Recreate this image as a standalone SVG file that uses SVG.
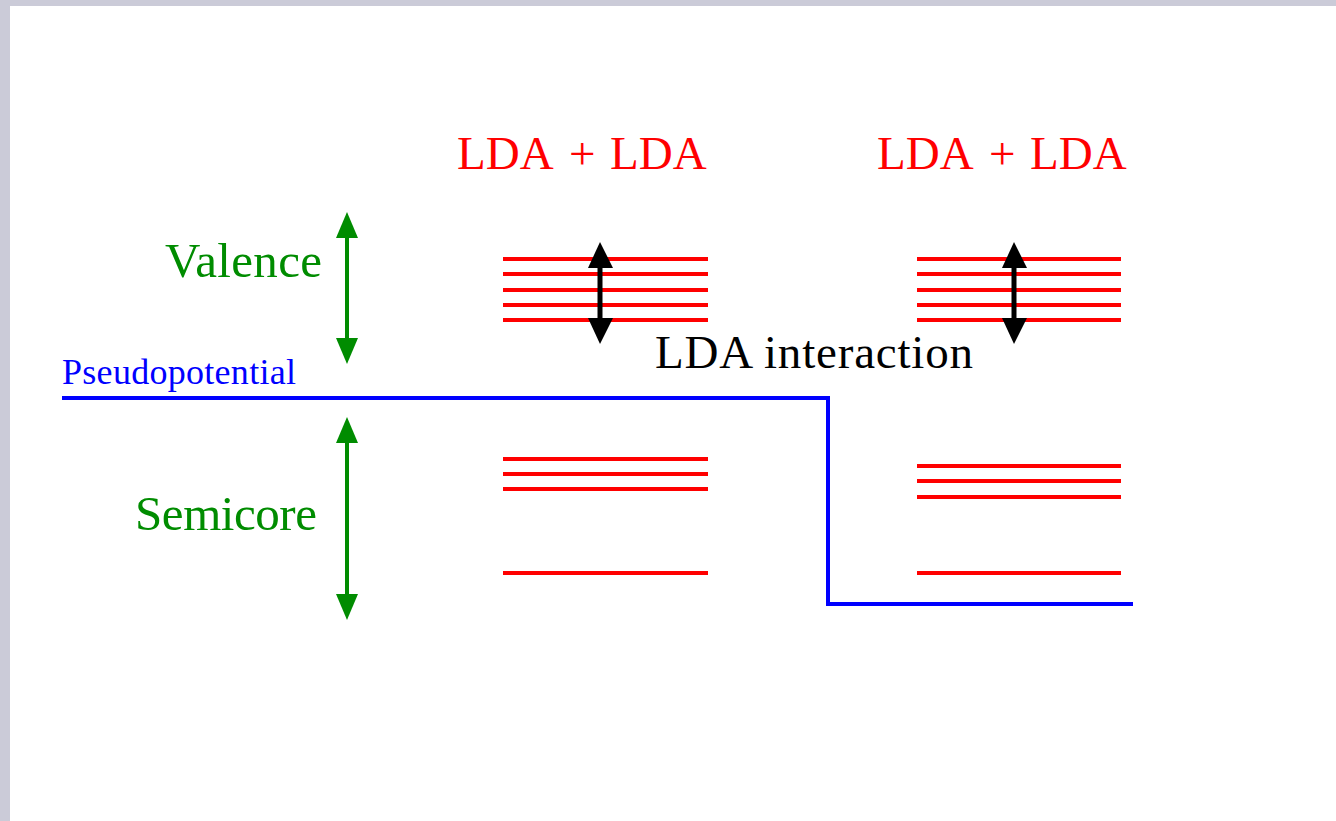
<svg xmlns="http://www.w3.org/2000/svg" width="1336" height="821" viewBox="0 0 1336 821">
<style>
.lvl{stroke:#FF0000;stroke-width:4;fill:none}
.grn{fill:#008C00}
.gl{stroke:#008C00;stroke-width:4}
.bl{stroke:#000;stroke-width:5}
.t{font-family:"Liberation Serif","Times New Roman",serif}
</style>
<rect x="0" y="0" width="1336" height="821" fill="#CBCBD8"/>
<rect x="10" y="6" width="1326" height="815" fill="#FFFFFF"/>
<g id="titles" class="t" fill="#FF0000" font-size="47">
<text y="169"><tspan x="457">LDA</tspan><tspan x="569">+</tspan><tspan x="610">LDA</tspan></text>
<text y="169"><tspan x="877">LDA</tspan><tspan x="989">+</tspan><tspan x="1030">LDA</tspan></text>
</g>
<g id="valence">
<text class="t" x="165" y="277" font-size="49" fill="#008C00" textLength="157" lengthAdjust="spacing">Valence</text>
<line class="gl" x1="347" y1="232" x2="347" y2="344"/>
<polygon class="grn" points="347,212 336,238 358,238"/>
<polygon class="grn" points="347,364 336,338 358,338"/>
</g>
<g id="semicore">
<text class="t" x="135" y="530" font-size="49" fill="#008C00" textLength="182" lengthAdjust="spacing">Semicore</text>
<line class="gl" x1="347" y1="437" x2="347" y2="600"/>
<polygon class="grn" points="347,417 336,443 358,443"/>
<polygon class="grn" points="347,620 336,594 358,594"/>
</g>
<g id="pseudopotential">
<text class="t" x="62" y="384" font-size="36" fill="#0000FF" textLength="234" lengthAdjust="spacing">Pseudopotential</text>
</g>
<g id="left-levels">
<line class="lvl" x1="503" y1="259" x2="708" y2="259"/>
<line class="lvl" x1="503" y1="274" x2="708" y2="274"/>
<line class="lvl" x1="503" y1="290" x2="708" y2="290"/>
<line class="lvl" x1="503" y1="305" x2="708" y2="305"/>
<line class="lvl" x1="503" y1="320" x2="708" y2="320"/>
<line class="lvl" x1="503" y1="459" x2="708" y2="459"/>
<line class="lvl" x1="503" y1="474" x2="708" y2="474"/>
<line class="lvl" x1="503" y1="489" x2="708" y2="489"/>
<line class="lvl" x1="503" y1="573" x2="708" y2="573"/>
</g>
<g id="right-levels">
<line class="lvl" x1="917" y1="259" x2="1121" y2="259"/>
<line class="lvl" x1="917" y1="274" x2="1121" y2="274"/>
<line class="lvl" x1="917" y1="290" x2="1121" y2="290"/>
<line class="lvl" x1="917" y1="305" x2="1121" y2="305"/>
<line class="lvl" x1="917" y1="320" x2="1121" y2="320"/>
<line class="lvl" x1="917" y1="466" x2="1121" y2="466"/>
<line class="lvl" x1="917" y1="481" x2="1121" y2="481"/>
<line class="lvl" x1="917" y1="497" x2="1121" y2="497"/>
<line class="lvl" x1="917" y1="573" x2="1121" y2="573"/>
</g>
<g id="connectors">
<polyline points="62,398 828,398 828,604 1133,604" fill="none" stroke="#0000FF" stroke-width="4"/>
<line class="bl" x1="600" y1="262" x2="600" y2="324"/>
<polygon points="600,242 588,268 613,268" fill="#000"/>
<polygon points="600,344 588,318 613,318" fill="#000"/>
<line class="bl" x1="1014" y1="262" x2="1014" y2="324"/>
<polygon points="1014,242 1002,268 1027,268" fill="#000"/>
<polygon points="1014,344 1002,318 1027,318" fill="#000"/>
</g>
<g id="interaction-label">
<text class="t" x="655" y="368" font-size="47" fill="#000" textLength="318" lengthAdjust="spacing">LDA interaction</text>
</g>
</svg>
